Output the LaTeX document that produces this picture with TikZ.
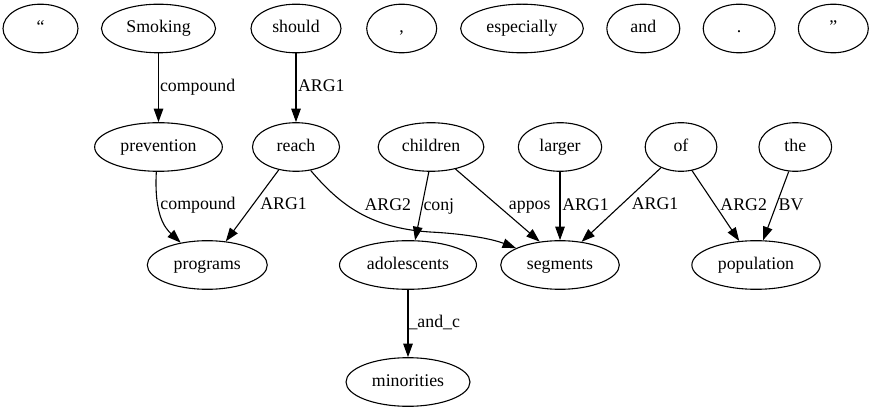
\documentclass[tikz,border=0pt]{standalone}
\usepackage{fontspec}
\setmainfont{Liberation Serif}
\usetikzlibrary{shapes.geometric,arrows.meta}
\tikzset{
  tok/.style={ellipse,draw,line width=1.1pt,minimum height=48.6pt,inner xsep=2pt,
    text height=12pt,text depth=3.5pt,minimum width=#1},
  tok/.default=72pt,
  dep/.style={-{Triangle[length=13.5pt,width=9.5pt]},line width=1.1pt},
  lbl/.style={anchor=west,inner sep=0pt,text height=12pt,text depth=3.5pt}
}
\begin{document}
\begin{tikzpicture}[x=1pt,y=-1pt,font=\fontsize{17.8}{20}\selectfont]
\useasboundingbox (0,0) rectangle (877,411);
% first row
\node[tok=75pt] (lquote) at (40.5,28.5) {“};
\node[tok=114pt] (smoking) at (158.5,28.5) {Smoking};
\node[tok=90pt] (should) at (296,28.5) {should};
\node[tok=70pt] (comma) at (401.7,28.5) {,};
\node[tok=122.7pt] (especially) at (522,28.5) {especially};
\node[tok=73pt] (and) at (643.3,28.5) {and};
\node[tok] (stop) at (739.2,28.5) {.};
\node[tok=70pt] (rquote) at (833.3,28.5) {”};
% second row
\node[tok=127.7pt] (prevention) at (158.5,147) {prevention};
\node[tok=87pt] (reach) at (296,147) {reach};
\node[tok=105.7pt] (children) at (431,147) {children};
\node[tok=83.4pt] (larger) at (560,147) {larger};
\node[tok=71.7pt] (of) at (681,147) {of};
\node[tok=72.7pt] (the) at (795.3,147) {the};
% third row
\node[tok=120pt] (programs) at (207.3,265) {programs};
\node[tok=137pt] (adolescents) at (408,265) {adolescents};
\node[tok=118.6pt] (segments) at (560,265) {segments};
\node[tok=128.3pt] (population) at (756,265) {population};
% last row
\node[tok=124pt] (minorities) at (408,382) {minorities};

\draw[dep] (smoking.south) -- node[lbl,xshift=1pt] {compound} (prevention.north);
\draw[dep] (should.south) -- node[lbl,xshift=1.5pt] {ARG1} (reach.north);
\draw[dep] (prevention.265) .. controls (154,215) and (165,228) .. (programs.140)
  node[lbl,pos=0.32,xshift=2pt] {compound};
\draw[dep] (reach.233) -- node[lbl,xshift=7.5pt] {ARG1} (programs.52);
\draw[dep] (reach.302) .. controls (340,205) and (370,228) .. (430,232)
  node[lbl,pos=0.4,xshift=16pt] {ARG2}
  .. controls (470,234) and (495,240) .. (segments.159);
\draw[dep] (children.265) -- node[lbl,xshift=1pt] {conj} (adolescents.74);
\draw[dep] (children.318) -- node[lbl,xshift=10.8pt] {appos} (segments.131);
\draw[dep] (larger.south) -- node[lbl,xshift=1.7pt] {ARG1} (segments.north);
\draw[dep] (of.226) -- node[lbl,xshift=10pt] {ARG1} (segments.47);
\draw[dep] (of.295) -- node[lbl,xshift=4.3pt] {ARG2} (population.125);
\draw[dep] (the.255) -- node[lbl,xshift=2.2pt] {BV} (population.74);
\draw[dep] (adolescents.south) -- node[lbl,xshift=0pt] {\_and\_c} (minorities.north);
\end{tikzpicture}
\end{document}
